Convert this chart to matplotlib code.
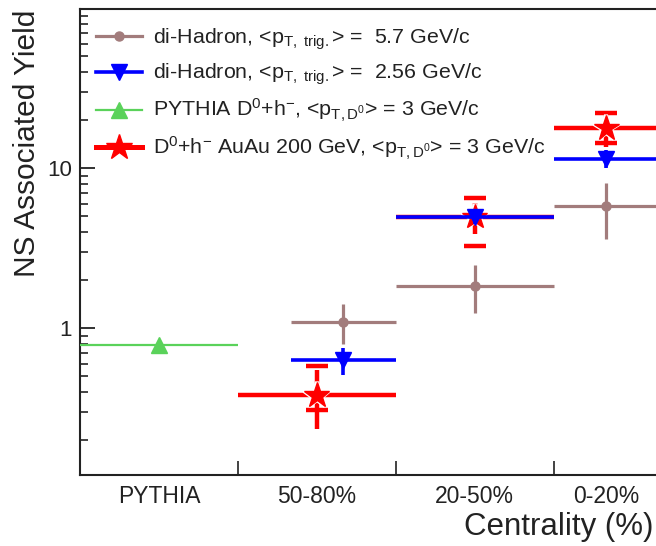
import numpy as np
import matplotlib.pyplot as plt
import matplotlib.patheffects as pe
from matplotlib.lines import Line2D
from matplotlib.ticker import FixedLocator, LogLocator, NullFormatter

plt.rcParams['font.family'] = ['Liberation Sans', 'DejaVu Sans']
plt.rcParams['mathtext.fontset'] = 'custom'
plt.rcParams['mathtext.rm'] = 'Liberation Sans'
plt.rcParams['mathtext.it'] = 'Liberation Sans:italic'

# x axis: centrality bins drawn on a reversed-percent scale (PYTHIA bin first)
cat_labels = ['PYTHIA', '50-80%', '20-50%', '0-20%']
cat_centers = [15, 45, 75, 100]
cat_edges = [30, 60, 90]

# PYTHIA D0+h
pythia_lo = [0]
pythia_hi = [30]
pythia_y = [0.79]

# D0+h AuAu 200 GeV
d0_lo = [30, 60, 90]
d0_hi = [60, 90, 110]
d0_x = [45, 75, 100]
d0_y = [0.383, 4.98, 17.9]
d0_stat_lo = [0.235, 3.89, 13.6]
d0_stat_hi = [0.55, 6.08, 22.6]
d0_sys_lo = [0.309, 3.28, 14.3]
d0_sys_hi = [0.58, 6.55, 22.1]

# di-hadron, <pT,trig> = 2.56
dh256_lo = [40, 60, 90]
dh256_hi = [60, 90, 110]
dh256_x = [50, 75, 100]
dh256_y = [0.634, 4.94, 11.4]
dh256_err_lo = [0.511, 4.5, 10.0]
dh256_err_hi = [0.753, 5.4, 13.0]

# di-hadron, <pT,trig> = 5.7
dh57_lo = [40, 60, 90]
dh57_hi = [60, 90, 110]
dh57_x = [50, 75, 100]
dh57_y = [1.10, 1.85, 5.81]
dh57_err_lo = [0.80, 1.24, 3.6]
dh57_err_hi = [1.42, 2.49, 8.06]

RED = '#ff0000'
BLUE = '#0000ff'
GREEN = '#5ad25a'
BROWN = '#a27c7c'


def xerr_of(x, lo, hi):
    x = np.asarray(x, float)
    return [x - np.asarray(lo), np.asarray(hi) - x]


def yerr_of(y, lo, hi):
    y = np.asarray(y, float)
    return [y - np.asarray(lo), np.asarray(hi) - y]


fig = plt.figure(figsize=(6.56, 5.46), dpi=100)
ax = fig.add_axes([80 / 656, 1 - 475 / 546, 579 / 656, (475 - 9.3) / 546])

# PYTHIA
px = [(a + b) / 2 for a, b in zip(pythia_lo, pythia_hi)]
ax.errorbar(px, pythia_y, xerr=xerr_of(px, pythia_lo, pythia_hi), fmt='^',
            color=GREEN, ms=11, lw=1.6, capsize=0, zorder=3)

# brown di-hadron
ax.errorbar(dh57_x, dh57_y, xerr=xerr_of(dh57_x, dh57_lo, dh57_hi),
            yerr=yerr_of(dh57_y, dh57_err_lo, dh57_err_hi), fmt='o',
            color=BROWN, ms=6.5, lw=2.3, capsize=0, zorder=3)

# red D0+h
ax.errorbar(d0_x, d0_y, xerr=xerr_of(d0_x, d0_lo, d0_hi),
            yerr=yerr_of(d0_y, d0_stat_lo, d0_stat_hi), fmt='none',
            color=RED, lw=3.2, capsize=0, zorder=4)
ax.hlines(d0_sys_lo, np.array(d0_x) - 2.1, np.array(d0_x) + 2.1, color=RED, lw=3.2, zorder=4)
ax.hlines(d0_sys_hi, np.array(d0_x) - 2.1, np.array(d0_x) + 2.1, color=RED, lw=3.2, zorder=4)
ax.plot(d0_x, d0_y, '*', color=RED, ms=19, zorder=5,
        path_effects=[pe.Stroke(linewidth=3, foreground='white'), pe.Normal()])

# blue di-hadron
ax.errorbar(dh256_x, dh256_y, xerr=xerr_of(dh256_x, dh256_lo, dh256_hi),
            yerr=yerr_of(dh256_y, dh256_err_lo, dh256_err_hi), fmt='v',
            color=BLUE, ms=11, lw=2.6, capsize=0, zorder=6)

ax.set_xlim(0, 110)
ax.set_yscale('log')
ax.set_ylim(0.121, 98.6)

ax.yaxis.set_major_locator(FixedLocator([1, 10]))
ax.set_yticklabels(['1', '10'])
ax.yaxis.set_minor_locator(LogLocator(base=10, subs=np.arange(2, 10)))
ax.yaxis.set_minor_formatter(NullFormatter())
ax.tick_params(axis='y', which='major', direction='in', length=11, width=1.3,
               labelsize=16, pad=6, color='#222222', labelcolor='#222222')
ax.tick_params(axis='y', which='minor', direction='in', length=6, width=1.2,
               color='#222222')

ax.xaxis.set_major_locator(FixedLocator(cat_centers))
ax.set_xticklabels(cat_labels)
ax.xaxis.set_minor_locator(FixedLocator(cat_edges))
ax.tick_params(axis='x', which='major', length=0, labelsize=16.5, pad=7,
               labelcolor='#222222')
ax.tick_params(axis='x', which='minor', direction='in', length=10, width=1.2,
               color='#222222')

for s in ax.spines.values():
    s.set_linewidth(1.5)
    s.set_color('#222222')

fig.text(654 / 656, 1 - 527 / 546, 'Centrality (%)', ha='right', va='center',
         fontsize=22.5, color='#222222')
fig.text(27 / 656, 1 - 10 / 546, 'NS Associated Yield', ha='center', va='top',
         rotation=90, fontsize=21.5, color='#222222')

handles = [
    Line2D([], [], color=BROWN, lw=2.3, marker='o', ms=6.5),
    Line2D([], [], color=BLUE, lw=2.6, marker='v', ms=11),
    Line2D([], [], color=GREEN, lw=1.6, marker='^', ms=11),
    Line2D([], [], color=RED, lw=3.6, marker='*', ms=19),
]
labels = [
    r'di-Hadron, <p$_{\mathrm{T,\ trig.}}$> =  5.7 GeV/c',
    r'di-Hadron, <p$_{\mathrm{T,\ trig.}}$> =  2.56 GeV/c',
    r'PYTHIA D$^{0}$+h$^{-}$, <p$_{\mathrm{T,D^{0}}}$> = 3 GeV/c',
    r'D$^{0}$+h$^{-}$ AuAu 200 GeV, <p$_{\mathrm{T,D^{0}}}$> = 3 GeV/c',
]
leg = ax.legend(handles, labels, loc='upper left', bbox_to_anchor=(16 / 579, 1 - 17 / 466),
                frameon=False, fontsize=15.4, handlelength=2.15, handletextpad=0.5,
                labelspacing=0.47, borderpad=0, borderaxespad=0)
for t in leg.get_texts():
    t.set_color('#222222')

fig.savefig('out.png', dpi=100)
